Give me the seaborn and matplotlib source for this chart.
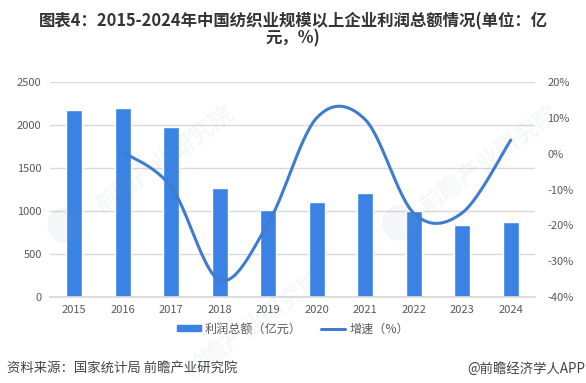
import numpy as np
import pandas as pd
import matplotlib
matplotlib.use('Agg')
import matplotlib.pyplot as plt
from matplotlib.lines import Line2D
from matplotlib.patches import Patch, Ellipse
import seaborn as sns

sns.set_theme(style='white')
plt.rcParams['font.family'] = ['Noto Sans CJK SC', 'DejaVu Sans']

# данные
years = ['2015', '2016', '2017', '2018', '2019', '2020', '2021', '2022', '2023', '2024']
profit = [2170, 2195, 1975, 1265, 1010, 1105, 1205, 1000, 835, 870]
growth_years = [1, 2, 3, 4, 5, 6, 7, 8, 9]
growth = [0.5, -9.3, -35.3, -19.4, 10.0, 9.5, -16.6, -16.5, 3.8]

bar_color = '#3a83e4'
line_color = '#3f7ccf'
text_color = '#595959'


# сглаживание линии как в Excel (Catmull-Rom)
def smooth(x, y, n=30):
    x = np.asarray(x, dtype=float)
    y = np.asarray(y, dtype=float)
    px = np.concatenate([[x[0]], x, [x[-1]]])
    py = np.concatenate([[y[0]], y, [y[-1]]])
    out_x, out_y = [], []
    for i in range(1, len(px) - 2):
        t = np.linspace(0, 1, n)
        for p, out in ((px, out_x), (py, out_y)):
            a, b, c, d = p[i - 1], p[i], p[i + 1], p[i + 2]
            out.extend(0.5 * (2 * b + (c - a) * t + (2 * a - 5 * b + 4 * c - d) * t ** 2
                              + (3 * b - a - 3 * c + d) * t ** 3))
    return np.array(out_x), np.array(out_y)


W, H = 586, 383
fig = plt.figure(figsize=(W / 100, H / 100), dpi=100, facecolor='white')
ax = fig.add_axes([50 / W, 1 - 297 / H, 485 / W, 215 / H])

df = pd.DataFrame({'year': years, 'profit': profit})
sns.barplot(data=df, x='year', y='profit', color=bar_color, saturation=1, width=0.33, ax=ax)
ax.set_xlim(-0.5, 9.5)
ax.set_ylim(0, 2500)
ax.set_yticks(range(0, 2501, 500))
ax.set_xlabel('')
ax.set_ylabel('')
ax.set_axisbelow(True)
ax.grid(axis='y', color='#d9d9d9', linewidth=1)
ax.tick_params(axis='both', length=0, labelsize=8, labelcolor=text_color)
ax.tick_params(axis='x', pad=6)
ax.tick_params(axis='y', pad=6)
sns.despine(ax=ax, left=True, right=True, top=True, bottom=False)
ax.spines['bottom'].set_color('#d9d9d9')

ax2 = ax.twinx()
sx, sy = smooth(growth_years, growth)
sns.lineplot(x=sx, y=sy, sort=False, estimator=None, color=line_color, linewidth=2.2, ax=ax2)
ax2.set_ylim(-40, 20)
ax2.set_yticks(range(-40, 21, 10))
ax2.set_yticklabels([f'{v}%' for v in range(-40, 21, 10)])
ax2.set_xlabel('')
ax2.set_ylabel('')
ax2.tick_params(axis='y', length=0, labelsize=8, labelcolor=text_color, pad=9)
ax2.grid(False)
sns.despine(ax=ax2, left=True, right=True, top=True, bottom=True)

# заголовок
fig.text(293 / W, 1 - 21 / H, '图表4：2015-2024年中国纺织业规模以上企业利润总额情况(单位：亿',
         ha='center', va='center', fontsize=11.8, fontweight='bold', color='#333333')
fig.text(293 / W, 1 - 38 / H, '元，%)', ha='center', va='center', fontsize=11.8,
         fontweight='bold', color='#333333')

# легенда
handles = [Patch(color=bar_color), Line2D([], [], color=line_color, linewidth=2.2)]
fig.legend(handles, ['利润总额（亿元）', '增速（%）'], ncol=2, frameon=False,
           loc='center', bbox_to_anchor=(293 / W, 1 - 329 / H), fontsize=8.7,
           labelcolor=text_color, handlelength=2.0, handleheight=0.35,
           handletextpad=0.3, columnspacing=1.6)

# водяные знаки
for wx, wy in [(165, 160), (490, 160), (255, 325)]:
    fig.text(wx / W, 1 - wy / H, '前瞻产业研究院', ha='center', va='center', rotation=36,
             fontsize=17, color='#8a9bb0', alpha=0.08, fontweight='bold', zorder=5)
for cx, cy in [(65, 225), (400, 223)]:
    fig.add_artist(Ellipse((cx / W, 1 - cy / H), 34 / W, 34 / H, transform=fig.transFigure,
                           color='#8a9bb0', alpha=0.07, zorder=5))

# подписи снизу
fig.text(7 / W, 1 - 373 / H, '资料来源：国家统计局 前瞻产业研究院', ha='left', va='baseline',
         fontsize=9.6, color='#444444')
fig.text(585 / W, 1 - 373 / H, '@前瞻经济学人APP', ha='right', va='baseline', fontsize=9.6,
         color='#444444')

fig.savefig('out.png', dpi=100, facecolor='white')
